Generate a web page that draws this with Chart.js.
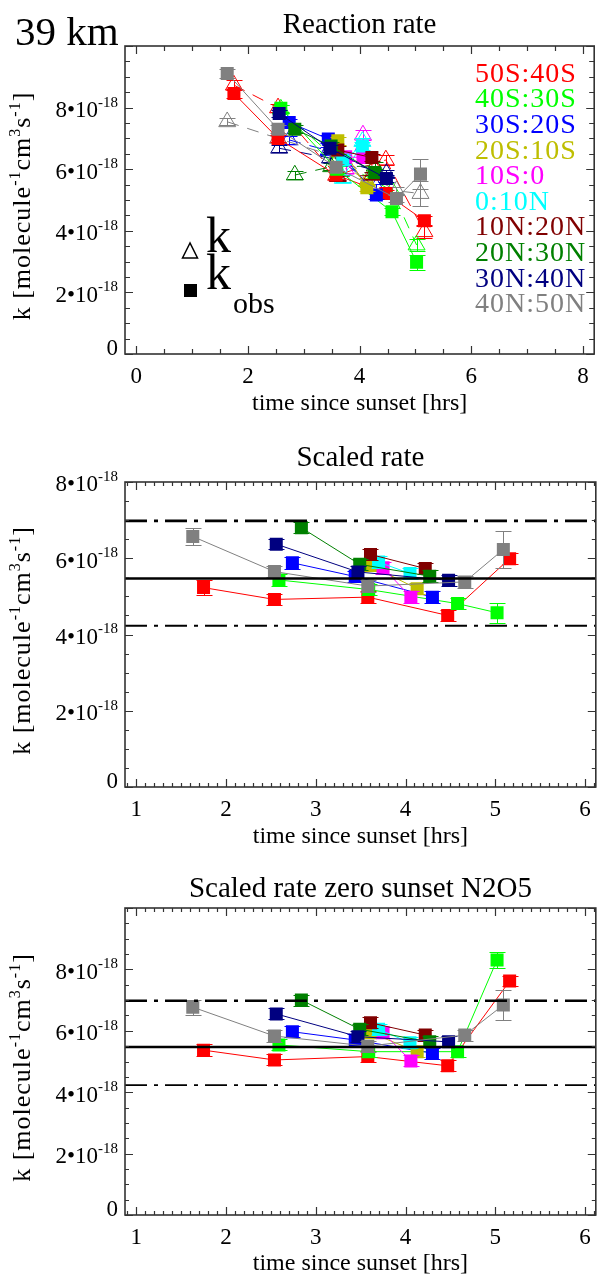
<!DOCTYPE html>
<html><head><meta charset="utf-8">
<script src="https://cdn.jsdelivr.net/npm/chart.js@4.4.1/dist/chart.umd.min.js"></script>
<style>
html,body{margin:0;padding:0;background:#fff;overflow:hidden;width:605px;height:1278px;}
.pane{position:absolute;left:0;width:605px;}
canvas{display:block;}
</style></head><body>
<div class="pane" style="top:0px;height:433px"><canvas id="c1" width="605" height="433"></canvas></div>
<div class="pane" style="top:433px;height:430px"><canvas id="c2" width="605" height="430"></canvas></div>
<div class="pane" style="top:863px;height:415px"><canvas id="c3" width="605" height="415"></canvas></div>
<script>
// ---------------- data (k in units of 1e-18 molecule^-1 cm^3 s^-1) ----------------
const bandNames = ['50S:40S','40S:30S','30S:20S','20S:10S','10S:0','0:10N','10N:20N','20N:30N','30N:40N','40N:50N'];
const timeHrs = [
  [1.75, 2.54, 3.58, 4.47, 5.16],
  [2.59, 3.59, 4.58, 5.02],
  [2.74, 3.44, 4.30],
  [3.61, 4.13],
  [3.75, 4.06],
  [3.70, 4.05],
  [3.61, 4.22],
  [2.84, 3.49, 4.27],
  [2.56, 3.47, 4.48],
  [1.63, 2.54, 3.58, 4.66, 5.09]
];
const kRate = [
  [8.73, 7.99, 5.80, 6.30, 3.97],
  [7.95, 6.30, 5.30, 3.54],
  [6.95, 6.60, 5.40],
  [6.30, 5.60],
  [6.00, 7.11],
  [5.70, 6.90],
  [5.76, 5.80],
  [5.81, 6.08, 6.10],
  [6.68, 6.36, 5.86],
  [7.54, 7.00, 6.40, 5.30, 5.21]
];
const kRateErr = [
  [0.15, 0.12, 0.12, 0.15, 0.20],
  [0.12, 0.12, 0.12, 0.20],
  [0.12, 0.12, 0.12],
  [0.12, 0.12],
  [0.12, 0.15],
  [0.12, 0.12],
  [0.12, 0.12],
  [0.12, 0.12, 0.12],
  [0.12, 0.12, 0.12],
  [0.12, 0.12, 0.12, 0.12, 0.41]
];
const kObs = [
  [8.46, 7.00, 5.81, 5.21, 4.33],
  [7.98, 6.00, 4.62, 2.98],
  [7.52, 6.98, 5.16],
  [6.92, 5.40],
  [6.40, 6.38],
  [6.30, 6.75],
  [6.62, 6.38],
  [7.30, 6.75, 5.89],
  [7.81, 6.68, 5.70],
  [9.11, 7.30, 6.06, 5.05, 5.84]
];
const kObsErr = [
  [0.15, 0.12, 0.12, 0.12, 0.15],
  [0.12, 0.12, 0.12, 0.24],
  [0.12, 0.12, 0.12],
  [0.12, 0.12],
  [0.12, 0.12],
  [0.12, 0.12],
  [0.12, 0.12],
  [0.12, 0.12, 0.12],
  [0.12, 0.12, 0.12],
  [0.15, 0.12, 0.12, 0.12, 0.49]
];
const kScaled = [
  [5.23, 4.92, 4.98, 4.50, 5.99],
  [5.43, 5.18, 4.81, 4.57],
  [5.88, 5.52, 4.98],
  [5.81, 5.20],
  [5.75, 4.98],
  [5.90, 5.60],
  [6.10, 5.73],
  [6.80, 5.84, 5.53],
  [6.37, 5.64, 5.42],
  [6.57, 5.65, 5.27, 5.38, 6.23]
];
const kScaledErr = [
  [0.19, 0.15, 0.15, 0.15, 0.15],
  [0.15, 0.15, 0.15, 0.26],
  [0.16, 0.15, 0.15],
  [0.15, 0.15],
  [0.15, 0.15],
  [0.15, 0.15],
  [0.15, 0.15],
  [0.15, 0.15, 0.15],
  [0.14, 0.15, 0.15],
  [0.22, 0.15, 0.15, 0.15, 0.48]
];
const kZeroSunset = [
  [5.37, 5.05, 5.16, 4.86, 7.62],
  [5.54, 5.32, 5.32, 8.31],
  [5.97, 5.70, 5.27],
  [5.94, 5.32],
  [5.94, 5.02],
  [6.05, 5.61],
  [6.26, 5.86],
  [7.00, 6.05, 5.64],
  [6.55, 5.81, 5.64],
  [6.77, 5.83, 5.50, 5.86, 6.84]
];
const kZeroSunsetErr = [
  [0.20, 0.18, 0.18, 0.18, 0.15],
  [0.18, 0.18, 0.18, 0.27],
  [0.18, 0.18, 0.18],
  [0.18, 0.18],
  [0.18, 0.18],
  [0.18, 0.18],
  [0.18, 0.18],
  [0.18, 0.18, 0.18],
  [0.18, 0.18, 0.18],
  [0.24, 0.18, 0.18, 0.18, 0.49]
];
const refLevels = [6.98, 5.47, 4.23];   // upper dash-dot, mean (solid), lower dash-dot
const xTicksRate = [0, 2, 4, 6, 8];
const xTicksScaled = [1, 2, 3, 4, 5, 6];
const yTickMantissas = [0, 2, 4, 6, 8];
const yTickExponent = '-18';

// ---------------- styles ----------------
const palette = ['#ff0000','#00ff00','#0000ff','#bebe00','#ff00ff','#00ffff','#800000','#008000','#000080','#808080'];
const FONT = "'Liberation Serif', 'Times New Roman', serif";
Chart.defaults.font.family = FONT;
Chart.defaults.color = '#000';

function pts(t, v) { return t.map((x, i) => ({ x: x, y: v[i] })); }

function squareSets(values, errors) {
  return bandNames.map((name, i) => ({
    label: name + ' obs', data: pts(timeHrs[i], values[i]), errors: errors[i],
    showLine: true, borderColor: palette[i], borderWidth: 1,
    pointStyle: 'rect', pointRadius: 9.2, pointBackgroundColor: palette[i],
    pointBorderColor: palette[i], pointBorderWidth: 0, order: 50 - i
  }));
}
function triangleSets(values, errors) {
  return bandNames.map((name, i) => ({
    label: name + ' k', data: pts(timeHrs[i], values[i]), errors: errors[i],
    showLine: true, borderColor: palette[i], borderWidth: 1, borderDash: [12, 9],
    pointStyle: 'triangle', pointRadius: 9.8, pointBackgroundColor: 'rgba(0,0,0,0)',
    pointBorderColor: palette[i], pointBorderWidth: 1, order: 100 - i
  }));
}
function refSets(xMin, xMax) {
  const styles = [
    { w: 2.6, dash: [22, 7, 4, 7] },
    { w: 2.6, dash: [] },
    { w: 1.8, dash: [22, 7, 4, 7] }
  ];
  return refLevels.map((lvl, i) => ({
    label: 'ref' + i, data: [{ x: xMin, y: lvl }, { x: xMax, y: lvl }],
    showLine: true, borderColor: '#000', borderWidth: styles[i].w, borderDash: styles[i].dash,
    pointRadius: 0, order: -100
  }));
}

// ---------------- plugins ----------------
const errorBars = {
  id: 'errorBars',
  beforeDatasetDraw(chart, args) {
    const ds = chart.data.datasets[args.index];
    if (!ds.errors) return;
    const xs = chart.scales.x, ys = chart.scales.y, ctx = chart.ctx;
    ctx.save();
    ctx.strokeStyle = ds.borderColor; ctx.lineWidth = 1; ctx.setLineDash([]);
    ds.data.forEach((p, j) => {
      const e = ds.errors[j]; if (!e) return;
      const x = Math.round(xs.getPixelForValue(p.x)) + 0.5;
      const y1 = Math.round(ys.getPixelForValue(p.y - e)) + 0.5;
      const y2 = Math.round(ys.getPixelForValue(p.y + e)) + 0.5;
      ctx.beginPath();
      ctx.moveTo(x, y1); ctx.lineTo(x, y2);
      ctx.moveTo(x - 8, y1); ctx.lineTo(x + 8, y1);
      ctx.moveTo(x - 8, y2); ctx.lineTo(x + 8, y2);
      ctx.stroke();
    });
    ctx.restore();
  }
};

const panelCfg = {
  c1: { title: 'Reaction rate', titleBase: 33, xMinor: 0.5, xMajor: 2, majorLen: 8, minorLen: 5, bandLegend: true, kLegend: true, bigLabel: true },
  c2: { title: 'Scaled rate', titleBase: 33, xMinor: 0.1, xMajor: 1, majorLen: 8, minorLen: 4 },
  c3: { title: 'Scaled rate zero sunset N2O5', titleBase: 34, xMinor: 0.1, xMajor: 1, majorLen: 8, minorLen: 4 }
};

function drawTicks(ctx, a, scale, minor, major, horizontal, majorLen, minorLen) {
  const start = Math.ceil(scale.min / minor - 1e-9), end = Math.floor(scale.max / minor + 1e-9);
  ctx.beginPath();
  for (let n = start; n <= end; n++) {
    const v = n * minor;
    const isMajor = Math.abs(v / major - Math.round(v / major)) < 1e-6;
    const len = isMajor ? majorLen : minorLen;
    const p = Math.round(scale.getPixelForValue(v)) + 0.5;
    if (horizontal) {
      ctx.moveTo(p, a.bottom); ctx.lineTo(p, a.bottom - len);
      ctx.moveTo(p, a.top); ctx.lineTo(p, a.top + len);
    } else {
      ctx.moveTo(a.left, p); ctx.lineTo(a.left + len, p);
      ctx.moveTo(a.right, p); ctx.lineTo(a.right - len, p);
    }
  }
  ctx.stroke();
}

function drawRich(ctx, parts, x, y, align, size, supSize, supRaise, spacing) {
  const sp = spacing || 0;
  const hasLS = 'letterSpacing' in ctx;
  if (hasLS) ctx.letterSpacing = sp + 'px';
  let total = 0;
  parts.forEach(p => { ctx.font = (p.sup ? supSize : size) + 'px ' + FONT; total += ctx.measureText(p.t).width; });
  let cx = align === 'right' ? x - total : (align === 'center' ? x - total / 2 : x);
  ctx.textAlign = 'left';
  parts.forEach(p => {
    ctx.font = (p.sup ? supSize : size) + 'px ' + FONT;
    ctx.fillText(p.t, cx, p.sup ? y - supRaise : y);
    cx += ctx.measureText(p.t).width;
  });
  if (hasLS) ctx.letterSpacing = '0px';
}

const idlFrame = {
  id: 'idlFrame',
  afterDatasetsDraw(chart) {
    const cfg = panelCfg[chart.canvas.id];
    const ctx = chart.ctx, a = chart.chartArea, xs = chart.scales.x, ys = chart.scales.y;
    ctx.save();
    ctx.setLineDash([]);
    ctx.strokeStyle = '#333'; ctx.lineWidth = 1.6;
    ctx.strokeRect(a.left, a.top, a.right - a.left, a.bottom - a.top);
    ctx.lineWidth = 1.2;
    drawTicks(ctx, a, xs, cfg.xMinor, cfg.xMajor, true, cfg.majorLen, cfg.minorLen);
    drawTicks(ctx, a, ys, 0.5, 2, false, cfg.majorLen, cfg.minorLen);

    ctx.fillStyle = '#000';
    ctx.textBaseline = 'alphabetic';
    // y tick labels
    yTickMantissas.forEach(m => {
      const py = ys.getPixelForValue(m);
      const base = Math.min(py + 9.4, a.bottom + 0.5);
      if (m === 0) {
        ctx.font = '23px ' + FONT; ctx.textAlign = 'right'; ctx.fillText('0', 118, base);
      } else {
        drawRich(ctx, [{ t: m + '\u202210' }, { t: yTickExponent, sup: true }], 118, base, 'right', 23, 15, 10.5);
      }
    });
    // y title (rotated)
    ctx.save();
    ctx.translate(30, (a.top + a.bottom) / 2 + 6);
    ctx.rotate(-Math.PI / 2);
    drawRich(ctx, [{ t: 'k [molecule' }, { t: '-1', sup: true }, { t: 'cm' }, { t: '3', sup: true }, { t: 's' }, { t: '-1', sup: true }, { t: ']' }], 0, 0, 'center', 26, 16, 10, 1);
    ctx.restore();
    // panel title
    ctx.font = '29px ' + FONT; ctx.textAlign = 'center';
    ctx.fillText(cfg.title, (a.left + a.right) / 2, cfg.titleBase);

    if (cfg.bigLabel) {
      ctx.font = '41px ' + FONT; ctx.textAlign = 'left';
      ctx.fillText('39 km', 15, 45);
    }
    if (cfg.bandLegend) {
      ctx.font = '28px ' + FONT; ctx.textAlign = 'left';
      if ('letterSpacing' in ctx) ctx.letterSpacing = '1px';
      bandNames.forEach((n, i) => {
        ctx.fillStyle = palette[i];
        ctx.fillText(n, 475, 81.7 + i * 25.6);
      });
      if ('letterSpacing' in ctx) ctx.letterSpacing = '0px';
    }
    if (cfg.kLegend) {
      ctx.fillStyle = '#000'; ctx.strokeStyle = '#000'; ctx.lineWidth = 1.5;
      ctx.beginPath(); ctx.moveTo(190, 243); ctx.lineTo(182.5, 258); ctx.lineTo(197.5, 258); ctx.closePath(); ctx.stroke();
      ctx.fillRect(184, 284, 13, 13);
      ctx.font = '50px ' + FONT; ctx.textAlign = 'left';
      ctx.fillText('k', 206, 252);
      ctx.fillText('k', 206, 289);
      ctx.font = '30px ' + FONT;
      ctx.fillText('obs', 233, 313);
    }
    ctx.restore();
  }
};

// ---------------- charts ----------------
function makeChart(id, o) {
  return new Chart(document.getElementById(id), {
    type: 'scatter',
    data: { datasets: o.datasets },
    options: {
      responsive: false, animation: false, events: [],
      layout: { padding: { left: 125, right: 2, top: o.padTop, bottom: o.padBottom } },
      plugins: { legend: { display: false }, tooltip: { enabled: false } },
      scales: {
        x: {
          type: 'linear', min: o.xMin, max: o.xMax,
          grid: { display: false, drawTicks: false }, border: { display: false },
          afterBuildTicks: s => { s.ticks = o.xTicks.map(v => ({ value: v })); },
          afterFit: s => { s.height = o.xAxisHeight; },
          ticks: { font: { size: 23 }, color: '#000', padding: 9, maxRotation: 0, autoSkip: false, callback: v => String(v) },
          title: { display: true, text: 'time since sunset [hrs]', font: { size: 24 }, color: '#000', padding: 0 }
        },
        y: { type: 'linear', display: false, min: o.yMin, max: o.yMax }
      }
    },
    plugins: [errorBars, idlFrame]
  });
}

makeChart('c1', {
  datasets: triangleSets(kRate, kRateErr).concat(squareSets(kObs, kObsErr)),
  xMin: -0.2, xMax: 8.2, yMin: 0, yMax: 10, xTicks: xTicksRate,
  padTop: 46, padBottom: 15, xAxisHeight: 64
});
makeChart('c2', {
  datasets: squareSets(kScaled, kScaledErr).concat(refSets(0.875, 6.12)),
  xMin: 0.875, xMax: 6.12, yMin: 0, yMax: 8, xTicks: xTicksScaled,
  padTop: 49, padBottom: 12, xAxisHeight: 64
});
makeChart('c3', {
  datasets: squareSets(kZeroSunset, kZeroSunsetErr).concat(refSets(0.875, 6.12)),
  xMin: 0.875, xMax: 6.12, yMin: 0, yMax: 10, xTicks: xTicksScaled,
  padTop: 45, padBottom: 0, xAxisHeight: 63
});
</script>
</body></html>
